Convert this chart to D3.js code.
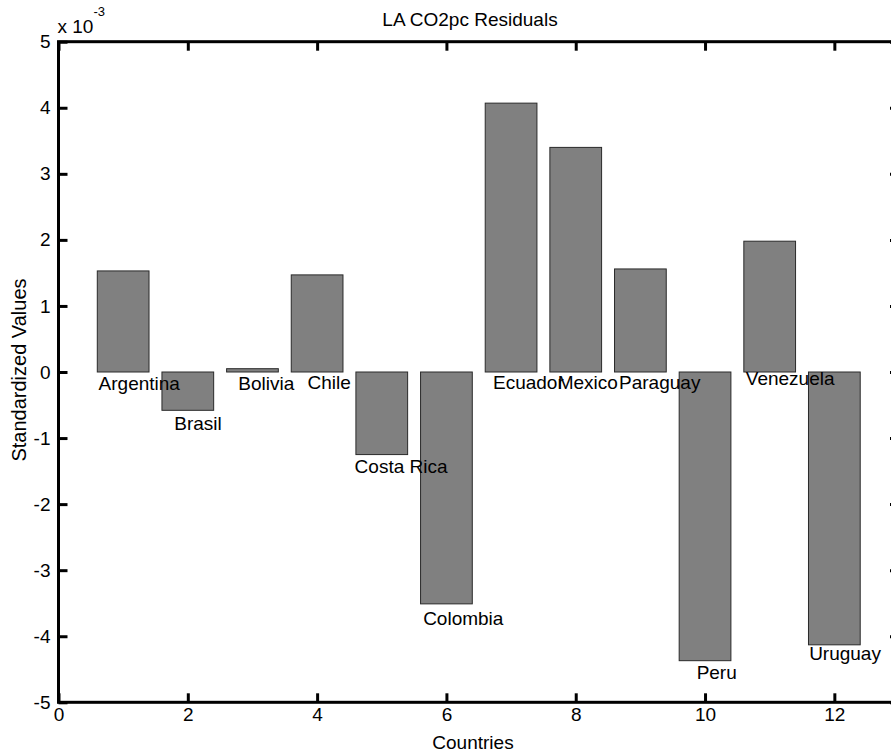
<!DOCTYPE html>
<html>
<head>
<meta charset="utf-8">
<script src="https://cdn.jsdelivr.net/npm/d3@7/dist/d3.min.js"></script>
<style>
  body { margin: 0; background: #fff; }
  svg text { font-family: "Liberation Sans", Arial, Helvetica, sans-serif; fill: #000; }
</style>
</head>
<body>
<svg id="chart" width="891" height="755"></svg>
<script>
// residuals, in units of 1e-3
var countries = ["Argentina", "Brasil", "Bolivia", "Chile", "Costa Rica", "Colombia",
                 "Ecuador", "Mexico", "Paraguay", "Peru", "Venezuela", "Uruguay"];
var residuals = [1.53, -0.58, 0.05, 1.47, -1.25, -3.51, 4.07, 3.40, 1.56, -4.37, 1.98, -4.13];
// where the name labels were placed (data coords, text left/middle aligned)
var labelX = [0.62, 1.79, 2.78, 3.85, 4.58, 5.64, 6.72, 7.72, 8.67, 9.87, 10.63, 11.61];
var labelY = [-0.17, -0.78, -0.17, -0.16, -1.42, -3.72, -0.16, -0.15, -0.16, -4.55, -0.10, -4.25];
var xTicks = [0, 2, 4, 6, 8, 10, 12];
var yTicks = [-5, -4, -3, -2, -1, 0, 1, 2, 3, 4, 5];

var svg = d3.select("#chart");
// plot box in pixels (right side runs past the window edge, as in the original)
var pLeft = 58.5, pRight = 899, pTop = 41.7, pBottom = 702.3;
var fs = 19;

var x = d3.scaleLinear().domain([0, 13]).range([pLeft, pRight]);
var y = d3.scaleLinear().domain([-5, 5]).range([pBottom, pTop]);
var barW = 0.8;
var plain = function(d) { return String(d); }; // hyphen minus, not unicode

// bars
svg.append("g").selectAll("rect")
  .data(residuals)
  .enter().append("rect")
  .attr("x", function(d, i) { return x(i + 1 - barW / 2); })
  .attr("width", function() { return x(barW) - x(0); })
  .attr("y", function(d) { return y(Math.max(0, d)); })
  .attr("height", function(d) { return Math.abs(y(d) - y(0)); })
  .attr("fill", "#808080")
  .attr("stroke", "#2a2a2a")
  .attr("stroke-width", 1);

// country labels
svg.append("g").selectAll("text")
  .data(countries)
  .enter().append("text")
  .attr("x", function(d, i) { return x(labelX[i]); })
  .attr("y", function(d, i) { return y(labelY[i]); })
  .attr("dy", "0.36em")
  .style("font-size", fs + "px")
  .text(function(d) { return d; });

// axes, ticks point inwards like matlab
function styleAxis(g) {
  g.select(".domain").remove();
  g.selectAll(".tick line").attr("stroke", "#000").attr("stroke-width", 3);
  g.selectAll(".tick text").style("font-size", fs + "px").attr("fill", "#000");
}
svg.append("g").attr("transform", "translate(0," + pBottom + ")")
  .call(d3.axisBottom(x).tickValues(xTicks).tickSize(-9).tickPadding(5).tickFormat(plain))
  .call(styleAxis);
svg.append("g").attr("transform", "translate(0," + pTop + ")")
  .call(d3.axisTop(x).tickValues(xTicks).tickSize(-9).tickFormat(""))
  .call(styleAxis);
svg.append("g").attr("transform", "translate(" + pLeft + ",0)")
  .call(d3.axisLeft(y).tickValues(yTicks).tickSize(-9).tickPadding(8).tickFormat(plain))
  .call(styleAxis);
svg.append("g").attr("transform", "translate(" + pRight + ",0)")
  .call(d3.axisRight(y).tickValues(yTicks).tickSize(-9).tickFormat(""))
  .call(styleAxis);

svg.append("rect")
  .attr("x", pLeft).attr("y", pTop)
  .attr("width", pRight - pLeft).attr("height", pBottom - pTop)
  .attr("fill", "none").attr("stroke", "#000").attr("stroke-width", 3);

// exponent note
var ex = svg.append("text").attr("x", pLeft - 1).attr("y", 33).style("font-size", fs + "px");
ex.append("tspan").text("x 10");
ex.append("tspan").attr("dy", -17).style("font-size", "13px").text("-3");

// titles
svg.append("text").attr("x", 470).attr("y", 26).attr("text-anchor", "middle")
  .style("font-size", fs + "px").text("LA CO2pc Residuals");
svg.append("text").attr("x", 473).attr("y", 749).attr("text-anchor", "middle")
  .style("font-size", fs + "px").text("Countries");
svg.append("text").attr("transform", "translate(26,370) rotate(-90)").attr("text-anchor", "middle")
  .style("font-size", "20px").text("Standardized Values");
</script>
</body>
</html>
